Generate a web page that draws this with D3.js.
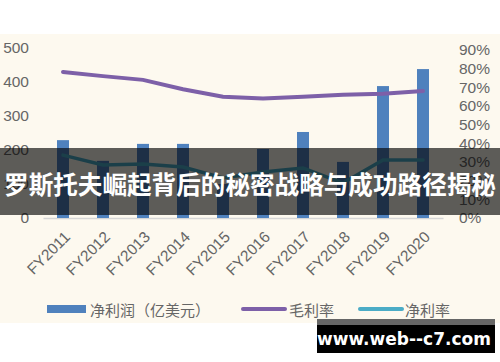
<!DOCTYPE html>
<html lang="zh">
<head>
<meta charset="UTF-8">
<title>chart</title>
<script src="https://cdn.jsdelivr.net/npm/d3@7"></script>
<style>
  body { margin: 0; background: #fff; }
  svg { display: block; font-family: "Liberation Sans", Arial, sans-serif; }
</style>
</head>
<body>
<div id="chart"></div>
<script>
// data
const years = ['FY2011', 'FY2012', 'FY2013', 'FY2014', 'FY2015', 'FY2016', 'FY2017', 'FY2018', 'FY2019', 'FY2020']
const netProfit = [229, 168, 218, 218, 100, 203, 253, 165, 388, 438]      // 亿美元
const grossMargin = [0.782, 0.76, 0.74, 0.69, 0.65, 0.64, 0.65, 0.66, 0.665, 0.68]
const netMargin = [0.337, 0.284, 0.289, 0.273, 0.214, 0.246, 0.268, 0.187, 0.311, 0.311]
const leftTicks = [0, 100, 200, 300, 400, 500]
const rightTicks = [0, 0.1, 0.2, 0.3, 0.4, 0.5, 0.6, 0.7, 0.8, 0.9]
const legendNames = ['净利润（亿美元）', '毛利率', '净利率']
const title = '罗斯托夫崛起背后的秘密战略与成功路径揭秘'

const width = 500, height = 362
const base = 218

const svg = d3.select('#chart').append('svg').attr('width', width).attr('height', height)

// cream plot area
svg.append('rect').attr('x', 0).attr('y', 34).attr('width', width).attr('height', 289).attr('fill', '#fdf9ef')

const x = d3.scaleBand().domain(years).range([43, 443]).paddingInner(0.7).paddingOuter(0.35)
const yL = d3.scaleLinear().domain([0, 500]).range([base, 48])
const yR = d3.scaleLinear().domain([0, 0.9]).range([base, 50])

// left axis
const gl = svg.append('g').attr('transform', 'translate(29,0)')
  .call(d3.axisLeft(yL).tickValues(leftTicks).tickSize(0).tickPadding(0))
gl.select('.domain').remove()
gl.selectAll('text').attr('fill', '#666').style('font-size', '15.5px')

// right axis
const gr = svg.append('g').attr('transform', 'translate(459,0)')
  .call(d3.axisRight(yR).tickValues(rightTicks).tickFormat(d3.format('.0%')).tickSize(0).tickPadding(0))
gr.select('.domain').remove()
gr.selectAll('text').attr('fill', '#666').style('font-size', '15.5px')

// bottom axis
const gb = svg.append('g').attr('transform', `translate(0,${base})`)
  .call(d3.axisBottom(x).tickSize(0).tickSizeOuter(0))
gb.select('.domain').attr('stroke', '#d6d6d6').attr('stroke-width', 1.5)
gb.selectAll('text')
  .attr('fill', '#666').style('font-size', '15.5px')
  .attr('text-anchor', 'end')
  .attr('dy', null).attr('y', 0)
  .attr('transform', 'translate(8,20) rotate(-45)')

// bars
svg.append('g').selectAll('rect').data(netProfit).join('rect')
  .attr('x', (d, i) => x(years[i]))
  .attr('y', d => yL(d))
  .attr('width', x.bandwidth())
  .attr('height', d => base - yL(d))
  .attr('fill', '#4f81bd')

// lines
const cx = (d, i) => x(years[i]) + x.bandwidth() / 2
const line = d3.line().x(cx).y(d => yR(d))
svg.append('path').attr('d', line(grossMargin))
  .attr('fill', 'none').attr('stroke', '#7d60a8').attr('stroke-width', 4).attr('stroke-linecap', 'round')
svg.append('path').attr('d', line(netMargin))
  .attr('fill', 'none').attr('stroke', '#4bacc6').attr('stroke-width', 3.5).attr('stroke-linecap', 'round')

// banner
svg.append('rect').attr('x', 0).attr('y', 148).attr('width', width).attr('height', 67).attr('fill', 'rgba(0,0,0,0.63)')
svg.append('text').attr('x', width / 2).attr('y', 183)
  .attr('text-anchor', 'middle').attr('dominant-baseline', 'central')
  .attr('fill', '#fff').style('font-family', '"Noto Sans CJK SC", sans-serif')
  .style('font-weight', 'bold').style('font-size', '24.6px')
  .text(title)

// legend
const lg = svg.append('g').style('font-family', '"Noto Sans CJK SC", sans-serif')
lg.append('rect').attr('x', 47).attr('y', 305).attr('width', 39).attr('height', 8).attr('fill', '#4f81bd')
lg.append('line').attr('x1', 243).attr('x2', 285).attr('y1', 309).attr('y2', 309)
  .attr('stroke', '#7d60a8').attr('stroke-width', 4).attr('stroke-linecap', 'round')
lg.append('line').attr('x1', 360).attr('x2', 402).attr('y1', 309).attr('y2', 309)
  .attr('stroke', '#4bacc6').attr('stroke-width', 4).attr('stroke-linecap', 'round')
const lx = [90, 289, 405]
lg.selectAll('text').data(legendNames).join('text')
  .attr('x', (d, i) => lx[i]).attr('y', 309)
  .attr('dominant-baseline', 'central')
  .attr('fill', '#666').style('font-size', '15px')
  .text(d => d)

// watermark
svg.append('rect').attr('x', 317).attr('y', 319).attr('width', 178).attr('height', 6).attr('fill', '#666')
svg.append('rect').attr('x', 317).attr('y', 325).attr('width', 178).attr('height', 28).attr('fill', '#000')
svg.append('text').attr('x', 404).attr('y', 339)
  .attr('text-anchor', 'middle').attr('dominant-baseline', 'central')
  .attr('fill', '#fff').style('font-family', '"DejaVu Sans", sans-serif')
  .style('font-weight', 'bold').style('font-size', '17px')
  .text('www.web--c7.com')
</script>
</body>
</html>
